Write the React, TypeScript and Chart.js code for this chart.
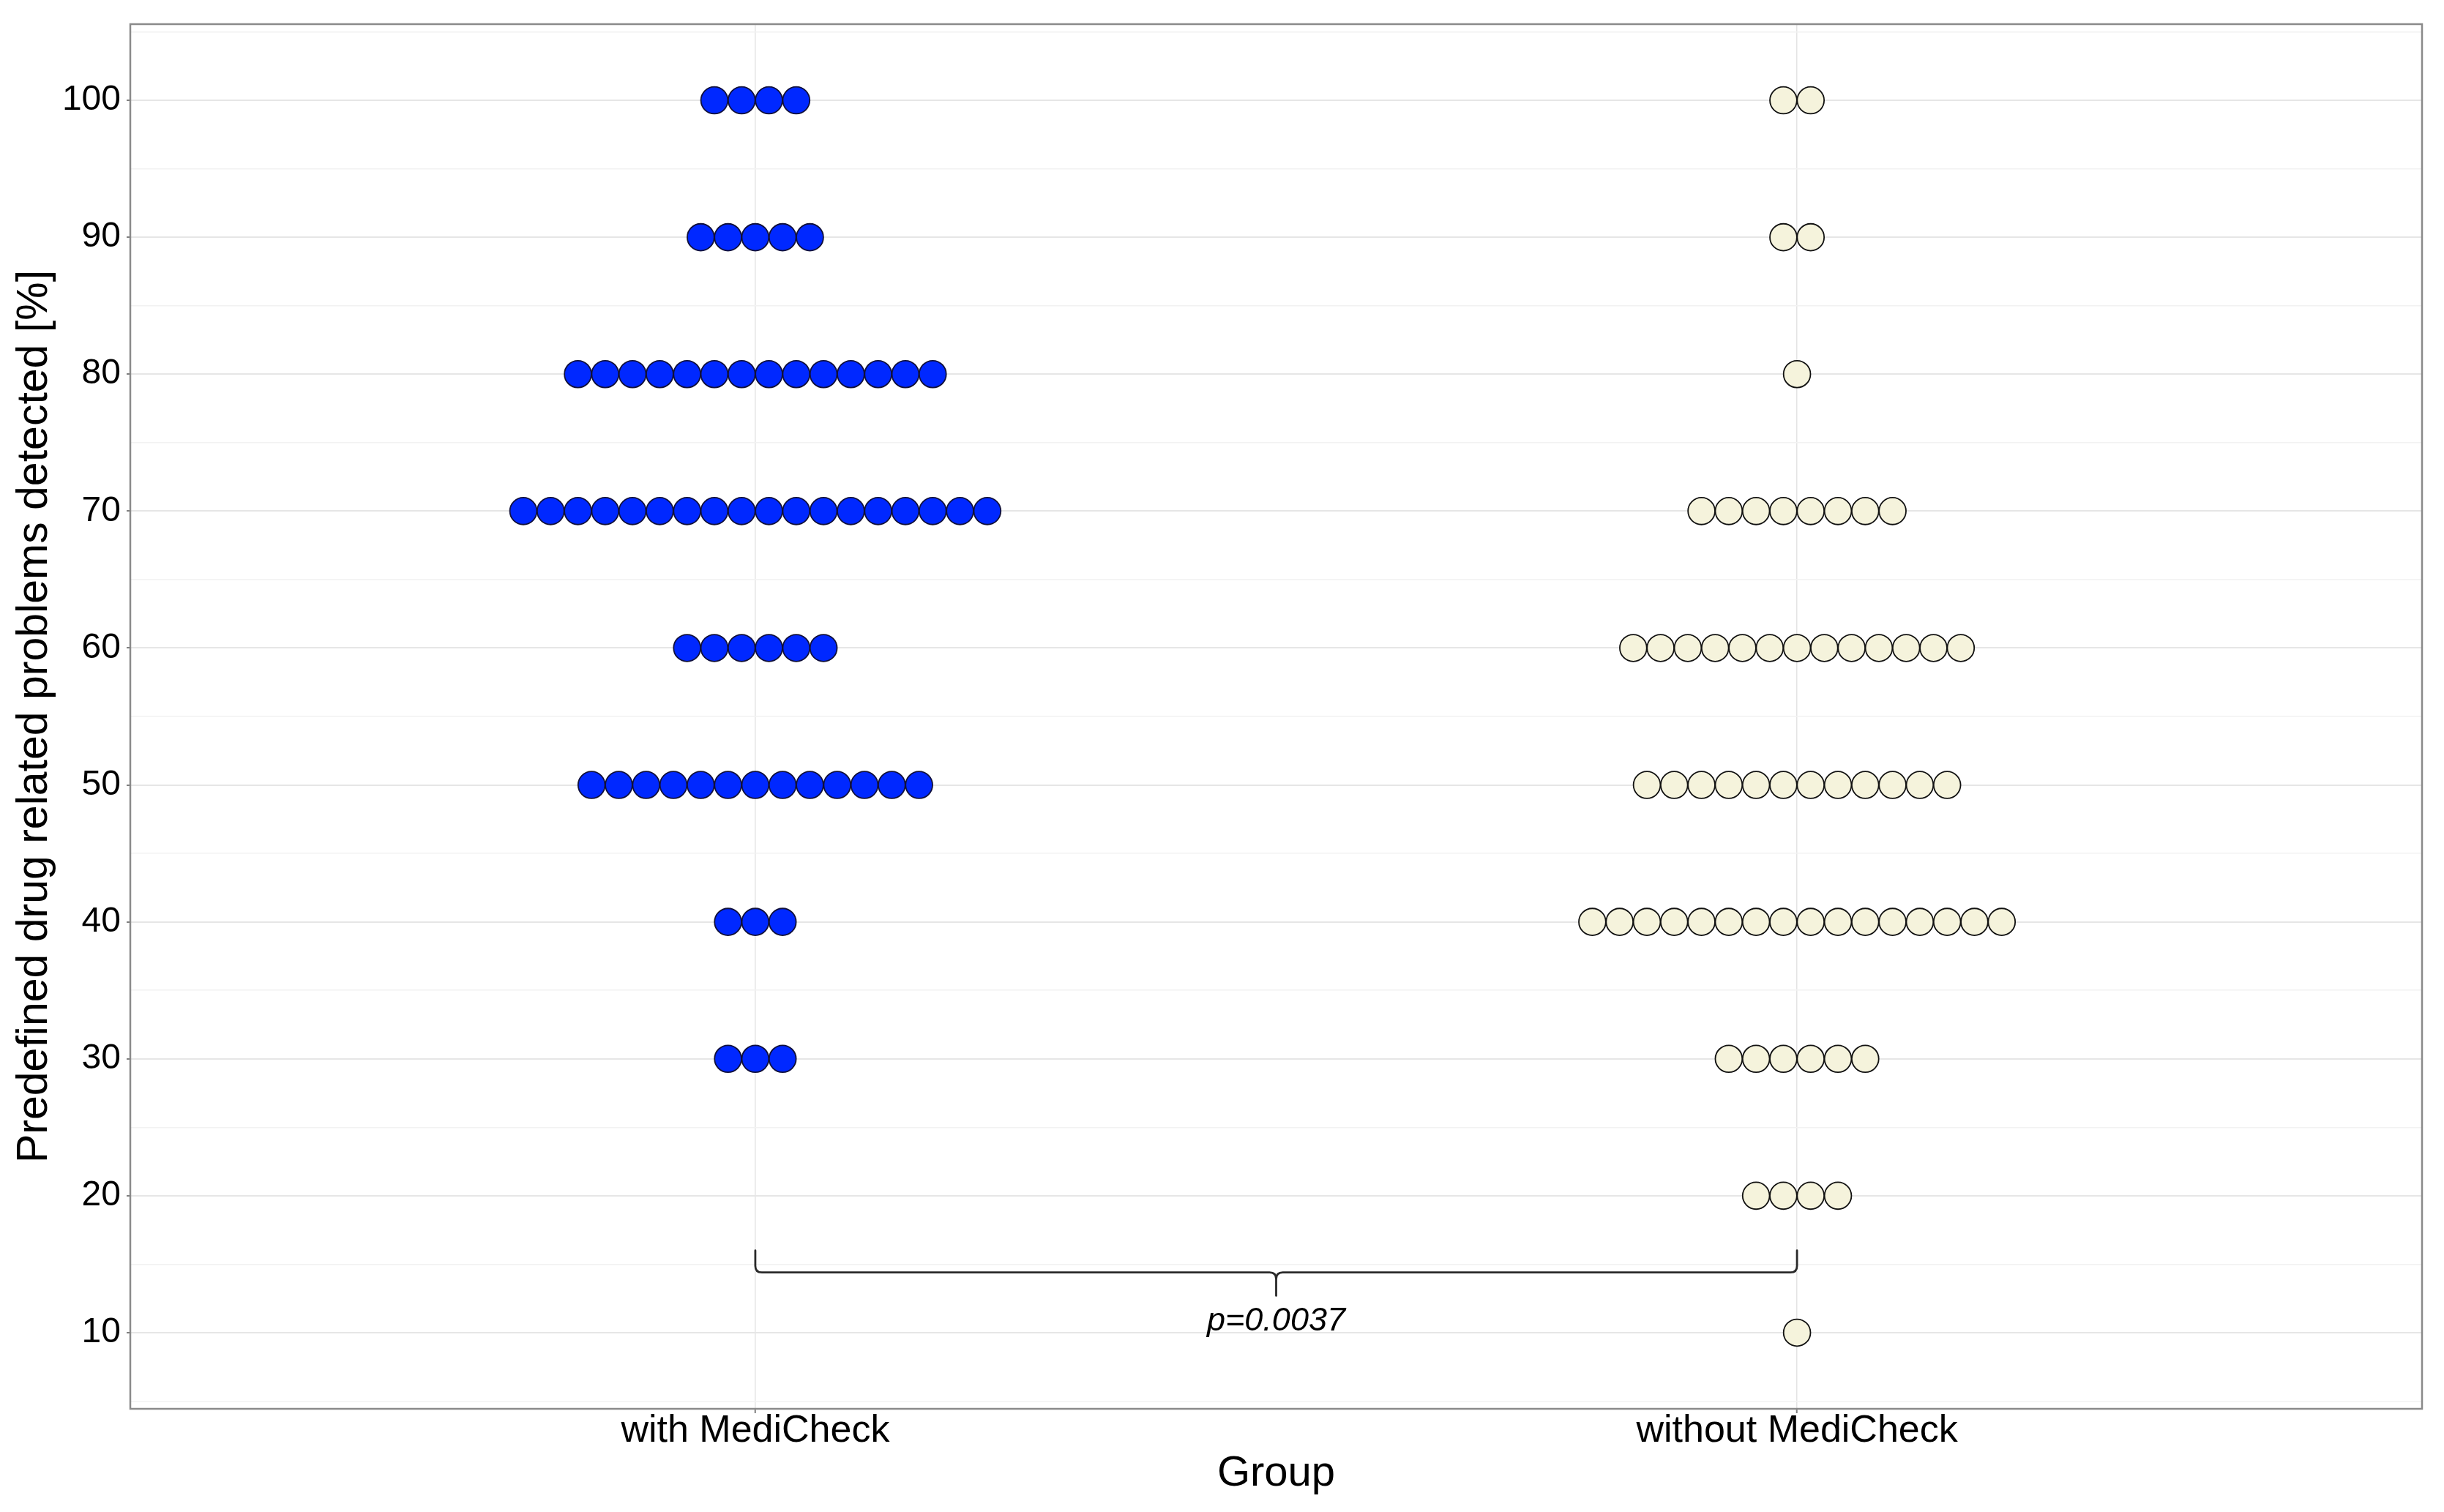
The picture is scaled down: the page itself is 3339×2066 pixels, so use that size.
import React, { useEffect, useRef } from "react";
import { Chart, registerables } from "chart.js";

Chart.register(...registerables);

const W = 3339;
const H = 2066;

// ---- data ----
const GROUPS = ["with MediCheck", "without MediCheck"];
const Y_LEVELS = [100, 90, 80, 70, 60, 50, 40, 30, 20, 10];
const WITH_COUNTS = [4, 5, 14, 18, 6, 13, 3, 3, 0, 0];
const WITHOUT_COUNTS = [2, 2, 1, 8, 13, 12, 16, 6, 4, 1];
const Y_TICKS = [5, 10, 15, 20, 25, 30, 35, 40, 45, 50, 55, 60, 65, 70, 75, 80, 85, 90, 95, 100, 105];
const X_TICKS = [1, 2];
const P_LABEL = "p=0.0037";
const Y_TITLE = "Predefined drug related problems detected [%]";
const X_TITLE = "Group";

// ---- layout constants (axis units) ----
const X_MIN = 0.4;
const X_MAX = 2.6;
const Y_MIN = 4.44;
const Y_MAX = 105.56;
const DOT_STEP = 0.0262;
const BRACKET_TOP = 16.0;
const BRACKET_LINE = 14.4;
const BRACKET_TICK = 12.7;
const P_TEXT_Y = 10.15;

const FONT = '"Liberation Sans", Arial, Helvetica, sans-serif';

function buildDots(groupIndex: number, counts: number[]) {
  const pts: { x: number; y: number }[] = [];
  Y_LEVELS.forEach((y, k) => {
    const n = counts[k];
    for (let i = 0; i < n; i++) {
      pts.push({ x: X_TICKS[groupIndex] + (i - (n - 1) / 2) * DOT_STEP, y });
    }
  });
  return pts;
}

const isMajor = (v: number) => Math.abs(v % 10) < 1e-6;

const panelPlugin = {
  id: "panelAndBrace",
  afterDatasetsDraw(chart: any) {
    const { ctx, chartArea: a, scales } = chart;
    const x = scales.x;
    const y = scales.y;
    ctx.save();
    ctx.strokeStyle = "#8a8a8a";
    ctx.lineWidth = 2.5;
    ctx.strokeRect(a.left, a.top, a.right - a.left, a.bottom - a.top);

    const x1 = x.getPixelForValue(X_TICKS[0]);
    const x2 = x.getPixelForValue(X_TICKS[1]);
    const xc = (x1 + x2) / 2;
    const yTop = y.getPixelForValue(BRACKET_TOP);
    const yLine = y.getPixelForValue(BRACKET_LINE);
    const yTick = y.getPixelForValue(BRACKET_TICK);
    const r = 9;
    ctx.strokeStyle = "#2a2a2a";
    ctx.lineWidth = 2.8;
    ctx.lineCap = "round";
    ctx.lineJoin = "round";
    ctx.beginPath();
    ctx.moveTo(x1, yTop);
    ctx.lineTo(x1, yLine - r);
    ctx.quadraticCurveTo(x1, yLine, x1 + r, yLine);
    ctx.lineTo(xc - r, yLine);
    ctx.quadraticCurveTo(xc, yLine, xc, yLine + r);
    ctx.lineTo(xc, yTick);
    ctx.moveTo(xc, yLine + r);
    ctx.quadraticCurveTo(xc, yLine, xc + r, yLine);
    ctx.lineTo(x2 - r, yLine);
    ctx.quadraticCurveTo(x2, yLine, x2, yLine - r);
    ctx.lineTo(x2, yTop);
    ctx.stroke();

    ctx.fillStyle = "#000";
    ctx.font = `italic 45px ${FONT}`;
    ctx.textAlign = "center";
    ctx.textBaseline = "alphabetic";
    ctx.fillText(P_LABEL, xc, y.getPixelForValue(P_TEXT_Y));
    ctx.restore();
  },
};

export default function App() {
  const canvasRef = useRef<HTMLCanvasElement | null>(null);

  useEffect(() => {
    if (!canvasRef.current) return;
    Chart.defaults.font.family = FONT;
    const chart = new Chart(canvasRef.current, {
      type: "scatter",
      data: {
        datasets: [
          {
            label: GROUPS[0],
            data: buildDots(0, WITH_COUNTS),
            backgroundColor: "#0028ff",
            borderColor: "#10103a",
            borderWidth: 1.8,
            pointRadius: 18.4,
            pointHoverRadius: 18.4,
          },
          {
            label: GROUPS[1],
            data: buildDots(1, WITHOUT_COUNTS),
            backgroundColor: "#f5f3dc",
            borderColor: "#111111",
            borderWidth: 1.8,
            pointRadius: 18.4,
            pointHoverRadius: 18.4,
          },
        ],
      },
      options: {
        responsive: false,
        animation: false,
        devicePixelRatio: 1,
        layout: { padding: { top: 33, right: 30, left: 0, bottom: 0 } },
        plugins: {
          legend: { display: false },
          tooltip: { enabled: false },
        },
        scales: {
          x: {
            type: "linear",
            min: X_MIN,
            max: X_MAX,
            afterBuildTicks: (s: any) => {
              s.ticks = X_TICKS.map((v) => ({ value: v }));
            },
            afterFit: (s: any) => {
              s.height = H - 1925;
              s.paddingLeft = 0;
              s.paddingRight = 0;
            },
            border: { display: false },
            grid: {
              color: "#e4e4e4",
              lineWidth: 1.5,
              drawTicks: true,
              tickLength: 6,
              tickColor: "#7f7f7f",
              tickWidth: 2,
            },
            ticks: {
              autoSkip: false,
              maxRotation: 0,
              padding: 0,
              color: "#000",
              font: { size: 52, lineHeight: 0.95 },
              callback: (v: any) => GROUPS[X_TICKS.indexOf(Number(v))] ?? "",
            },
            title: {
              display: true,
              text: X_TITLE,
              color: "#000",
              font: { size: 58 },
              padding: { top: 0, bottom: 17 },
            },
          },
          y: {
            type: "linear",
            min: Y_MIN,
            max: Y_MAX,
            afterBuildTicks: (s: any) => {
              s.ticks = Y_TICKS.map((v) => ({ value: v }));
            },
            afterFit: (s: any) => {
              s.width = 178;
              s.paddingTop = 0;
              s.paddingBottom = 0;
            },
            border: { display: false },
            grid: {
              color: (c: any) => (c.tick && isMajor(c.tick.value) ? "#e6e6e6" : "#f2f2f2"),
              lineWidth: (c: any) => (c.tick && isMajor(c.tick.value) ? 2 : 1.5),
              drawTicks: true,
              tickLength: 5,
              tickColor: (c: any) => (c.tick && isMajor(c.tick.value) ? "#7f7f7f" : "rgba(0,0,0,0)"),
              tickWidth: 2,
            },
            ticks: {
              autoSkip: false,
              padding: 8,
              color: "#000",
              font: { size: 48 },
              callback: (v: any) => {
                const n = Number(v);
                return isMajor(n) && n >= 10 && n <= 100 ? String(n) : "";
              },
            },
            title: {
              display: true,
              text: Y_TITLE,
              color: "#000",
              font: { size: 59 },
              padding: { top: 12, bottom: 0 },
            },
          },
        },
      },
      plugins: [panelPlugin],
    } as any);
    return () => chart.destroy();
  }, []);

  return (
    <div style={{ position: "fixed", left: 0, top: 0, width: W, height: H, background: "#fff" }}>
      <canvas ref={canvasRef} width={W} height={H} style={{ width: W, height: H, display: "block" }} />
    </div>
  );
}
